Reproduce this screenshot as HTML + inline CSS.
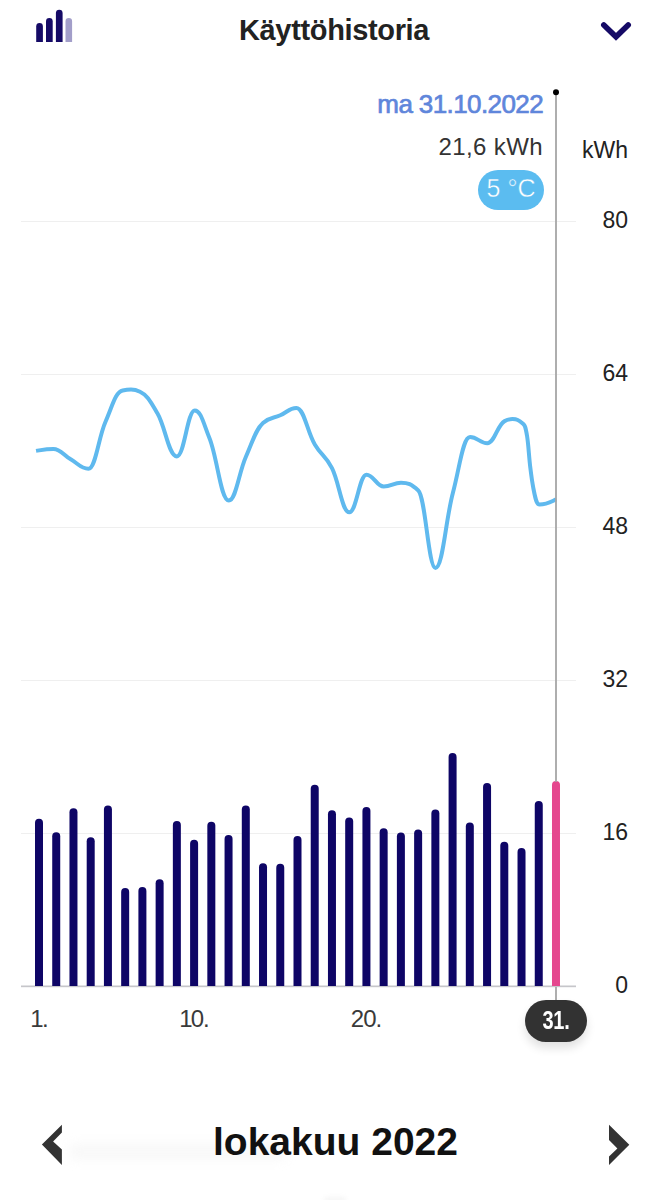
<!DOCTYPE html>
<html><head><meta charset="utf-8">
<style>
html,body{margin:0;padding:0;background:#fff;}
body{width:671px;height:1200px;overflow:hidden;position:relative;font-family:"Liberation Sans",sans-serif;}
.a{position:absolute;white-space:nowrap;}
.yl{position:absolute;right:43px;font-size:23px;line-height:28px;color:#222;}
.dl{position:absolute;font-size:24px;line-height:28px;color:#3a3a3a;width:60px;text-align:center;top:1005px;letter-spacing:-1px;}
</style></head><body>
<svg class="a" style="left:0;top:0" width="671" height="1200" viewBox="0 0 671 1200">
  <!-- header icon -->
  <path d="M36.2,42 V26.45 a3.35,3.35 0 0 1 6.7,0 V42 Z" fill="#150a66"/>
  <path d="M46,42 V21.25 a3.35,3.35 0 0 1 6.7,0 V42 Z" fill="#150a66"/>
  <path d="M55.9,42 V13.05 a3.35,3.35 0 0 1 6.7,0 V42 Z" fill="#150a66"/>
  <path d="M65.5,42 V21.25 a3.3,3.3 0 0 1 6.6,0 V42 Z" fill="#a29ec9"/>
  <!-- chevron -->
  <path d="M603.8,25 L616,36.8 L628.2,25" fill="none" stroke="#150a66" stroke-width="5.6" stroke-linecap="round" stroke-linejoin="miter"/>
  <rect x="21" y="221.0" width="555" height="1" fill="#efefef"/><rect x="21" y="374.0" width="555" height="1" fill="#efefef"/><rect x="21" y="527.0" width="555" height="1" fill="#efefef"/><rect x="21" y="680.0" width="555" height="1" fill="#efefef"/><rect x="21" y="833.0" width="555" height="1" fill="#efefef"/>
  <rect x="21" y="985.5" width="555" height="1.7" fill="#c6c6ca"/>
  <path d="M36.05,450.90 C43.34,449.64 46.11,448.90 53.40,448.90 C60.67,448.90 63.43,455.16 70.70,459.30 C78.13,463.53 80.97,468.80 88.40,468.80 C95.54,468.80 98.26,438.36 105.40,422.00 C112.67,405.35 115.43,392.08 122.70,390.50 C126.19,389.74 127.51,389.60 131.00,389.60 C134.78,389.60 136.22,389.94 140.00,391.70 C147.31,395.11 150.09,400.79 157.40,413.20 C165.59,427.10 168.71,456.40 176.90,456.40 C184.42,456.40 187.28,410.50 194.80,410.50 C200.93,410.50 203.27,422.84 209.40,437.90 C217.55,457.92 220.65,500.50 228.80,500.50 C235.94,500.50 238.66,473.20 245.80,457.00 C253.02,440.61 255.78,429.43 263.00,423.00 C270.27,416.53 273.03,418.59 280.30,415.30 C287.06,412.24 289.64,407.90 296.40,407.90 C304.13,407.90 307.07,431.57 314.80,444.50 C322.02,456.59 324.78,454.03 332.00,468.20 C339.27,482.45 342.03,512.30 349.30,512.30 C356.52,512.30 359.28,474.70 366.50,474.70 C373.77,474.70 376.53,486.50 383.80,486.50 C391.02,486.50 393.78,482.70 401.00,482.70 C408.27,482.70 411.03,483.93 418.30,490.40 C425.52,496.83 428.28,567.90 435.50,567.90 C442.77,567.90 445.53,520.69 452.80,493.20 C460.07,465.71 462.83,437.00 470.10,437.00 C477.32,437.00 480.08,443.20 487.30,443.20 C494.57,443.20 497.33,424.78 504.60,421.10 C507.92,419.42 509.18,419.10 512.50,419.10 C516.91,419.10 518.59,419.85 523.00,423.80 C524.72,425.34 525.38,425.80 527.10,436.30 C528.44,444.50 528.96,456.53 530.30,467.60 C531.60,478.33 532.10,481.74 533.40,488.50 C536.00,502.02 537.00,504.60 539.60,504.60 C546.61,504.60 549.29,502.68 556.30,499.40" fill="none" stroke="#5fb9ee" stroke-width="4" stroke-linejoin="round"/>
  <path d="M35.00,986 V822.70 a4,4 0 0 1 8,0 V986 Z" fill="#0e0566"/><path d="M52.23,986 V836.30 a4,4 0 0 1 8,0 V986 Z" fill="#0e0566"/><path d="M69.47,986 V812.20 a4,4 0 0 1 8,0 V986 Z" fill="#0e0566"/><path d="M86.70,986 V841.30 a4,4 0 0 1 8,0 V986 Z" fill="#0e0566"/><path d="M103.93,986 V809.60 a4,4 0 0 1 8,0 V986 Z" fill="#0e0566"/><path d="M121.17,986 V892.10 a4,4 0 0 1 8,0 V986 Z" fill="#0e0566"/><path d="M138.40,986 V890.90 a4,4 0 0 1 8,0 V986 Z" fill="#0e0566"/><path d="M155.63,986 V883.20 a4,4 0 0 1 8,0 V986 Z" fill="#0e0566"/><path d="M172.86,986 V825.10 a4,4 0 0 1 8,0 V986 Z" fill="#0e0566"/><path d="M190.10,986 V843.70 a4,4 0 0 1 8,0 V986 Z" fill="#0e0566"/><path d="M207.33,986 V825.80 a4,4 0 0 1 8,0 V986 Z" fill="#0e0566"/><path d="M224.56,986 V838.90 a4,4 0 0 1 8,0 V986 Z" fill="#0e0566"/><path d="M241.80,986 V809.60 a4,4 0 0 1 8,0 V986 Z" fill="#0e0566"/><path d="M259.03,986 V867.30 a4,4 0 0 1 8,0 V986 Z" fill="#0e0566"/><path d="M276.26,986 V867.70 a4,4 0 0 1 8,0 V986 Z" fill="#0e0566"/><path d="M293.50,986 V839.90 a4,4 0 0 1 8,0 V986 Z" fill="#0e0566"/><path d="M310.73,986 V788.80 a4,4 0 0 1 8,0 V986 Z" fill="#0e0566"/><path d="M327.96,986 V814.30 a4,4 0 0 1 8,0 V986 Z" fill="#0e0566"/><path d="M345.19,986 V821.50 a4,4 0 0 1 8,0 V986 Z" fill="#0e0566"/><path d="M362.43,986 V811.00 a4,4 0 0 1 8,0 V986 Z" fill="#0e0566"/><path d="M379.66,986 V832.20 a4,4 0 0 1 8,0 V986 Z" fill="#0e0566"/><path d="M396.89,986 V836.50 a4,4 0 0 1 8,0 V986 Z" fill="#0e0566"/><path d="M414.13,986 V833.40 a4,4 0 0 1 8,0 V986 Z" fill="#0e0566"/><path d="M431.36,986 V813.40 a4,4 0 0 1 8,0 V986 Z" fill="#0e0566"/><path d="M448.59,986 V757.10 a4,4 0 0 1 8,0 V986 Z" fill="#0e0566"/><path d="M465.82,986 V826.50 a4,4 0 0 1 8,0 V986 Z" fill="#0e0566"/><path d="M483.06,986 V786.90 a4,4 0 0 1 8,0 V986 Z" fill="#0e0566"/><path d="M500.29,986 V845.80 a4,4 0 0 1 8,0 V986 Z" fill="#0e0566"/><path d="M517.52,986 V852.00 a4,4 0 0 1 8,0 V986 Z" fill="#0e0566"/><path d="M534.76,986 V805.00 a4,4 0 0 1 8,0 V986 Z" fill="#0e0566"/><path d="M551.99,986 V785.00 a4,4 0 0 1 8,0 V986 Z" fill="#e5478e"/>
  <rect x="555.1" y="92" width="1.8" height="690" fill="#a6a6a6"/>
  <rect x="555.1" y="987" width="1.8" height="13" fill="#a6a6a6"/>
  <circle cx="556" cy="92.3" r="3" fill="#000"/>
  <!-- arrows -->
  <path d="M41.9,1144.4 L61.9,1124.7 L61.9,1132.5 L53.1,1141.5 L61.9,1149.6 L61.9,1164.9 Z" fill="#333"/>
  <path d="M629.3,1144.8 L609,1124.7 L609,1140 L617.4,1148.5 L609,1156.4 L609,1164.9 Z" fill="#333"/>
</svg>
<div class="a" style="left:239px;top:14px;font-size:29px;line-height:32px;font-weight:bold;color:#222;letter-spacing:-0.35px;">Käyttöhistoria</div>
<div class="a" style="right:128px;top:90px;font-size:26px;line-height:28px;color:#5f86db;-webkit-text-stroke:0.7px #5f86db;letter-spacing:-0.6px;">ma 31.10.2022</div>
<div class="a" style="right:128px;top:133px;font-size:24px;line-height:28px;color:#333;letter-spacing:0.4px;">21,6 kWh</div>
<div class="a" style="left:478px;top:170px;width:66px;height:40px;border-radius:20px;background:#5bbcf0;"></div>
<div class="a" style="left:478px;top:174px;width:66px;text-align:center;font-size:25px;line-height:28px;color:#fff;-webkit-text-stroke:0.45px #5bbcf0;">5 °C</div>
<div class="a" style="left:582px;top:136px;font-size:23px;line-height:28px;color:#222;">kWh</div>
<div class="yl" style="top:206.0px">80</div><div class="yl" style="top:359.0px">64</div><div class="yl" style="top:512.0px">48</div><div class="yl" style="top:665.0px">32</div><div class="yl" style="top:818.0px">16</div><div class="yl" style="top:971.0px">0</div>
<div class="dl" style="left:9px"><span style="letter-spacing:-1.5px">1</span>.</div>
<div class="dl" style="left:164px"><span style="letter-spacing:-2px">1</span>0.</div>
<div class="dl" style="left:336px">20.</div>
<div class="a" style="left:525px;top:999.5px;width:62px;height:42.5px;border-radius:21.25px;background:#323232;box-shadow:0 6px 10px rgba(0,0,0,0.12);"></div>
<div class="a" style="left:525px;top:1006px;width:62px;text-align:center;font-size:25px;line-height:28px;font-weight:bold;color:#fff;"><span style="display:inline-block;transform:scaleX(0.8);letter-spacing:-0.3px">31.</span></div>
<div class="a" style="left:70px;top:1145px;width:215px;height:14px;background:#eee;filter:blur(6px);opacity:0.45"></div>
<div class="a" style="left:324px;top:1197px;width:22px;height:5px;border-radius:3px;background:#e4e4e4;filter:blur(2px);opacity:0.35"></div>
<div class="a" style="left:213px;top:1120px;font-size:39px;line-height:44px;font-weight:bold;color:#111;">lokakuu 2022</div>
</body></html>
